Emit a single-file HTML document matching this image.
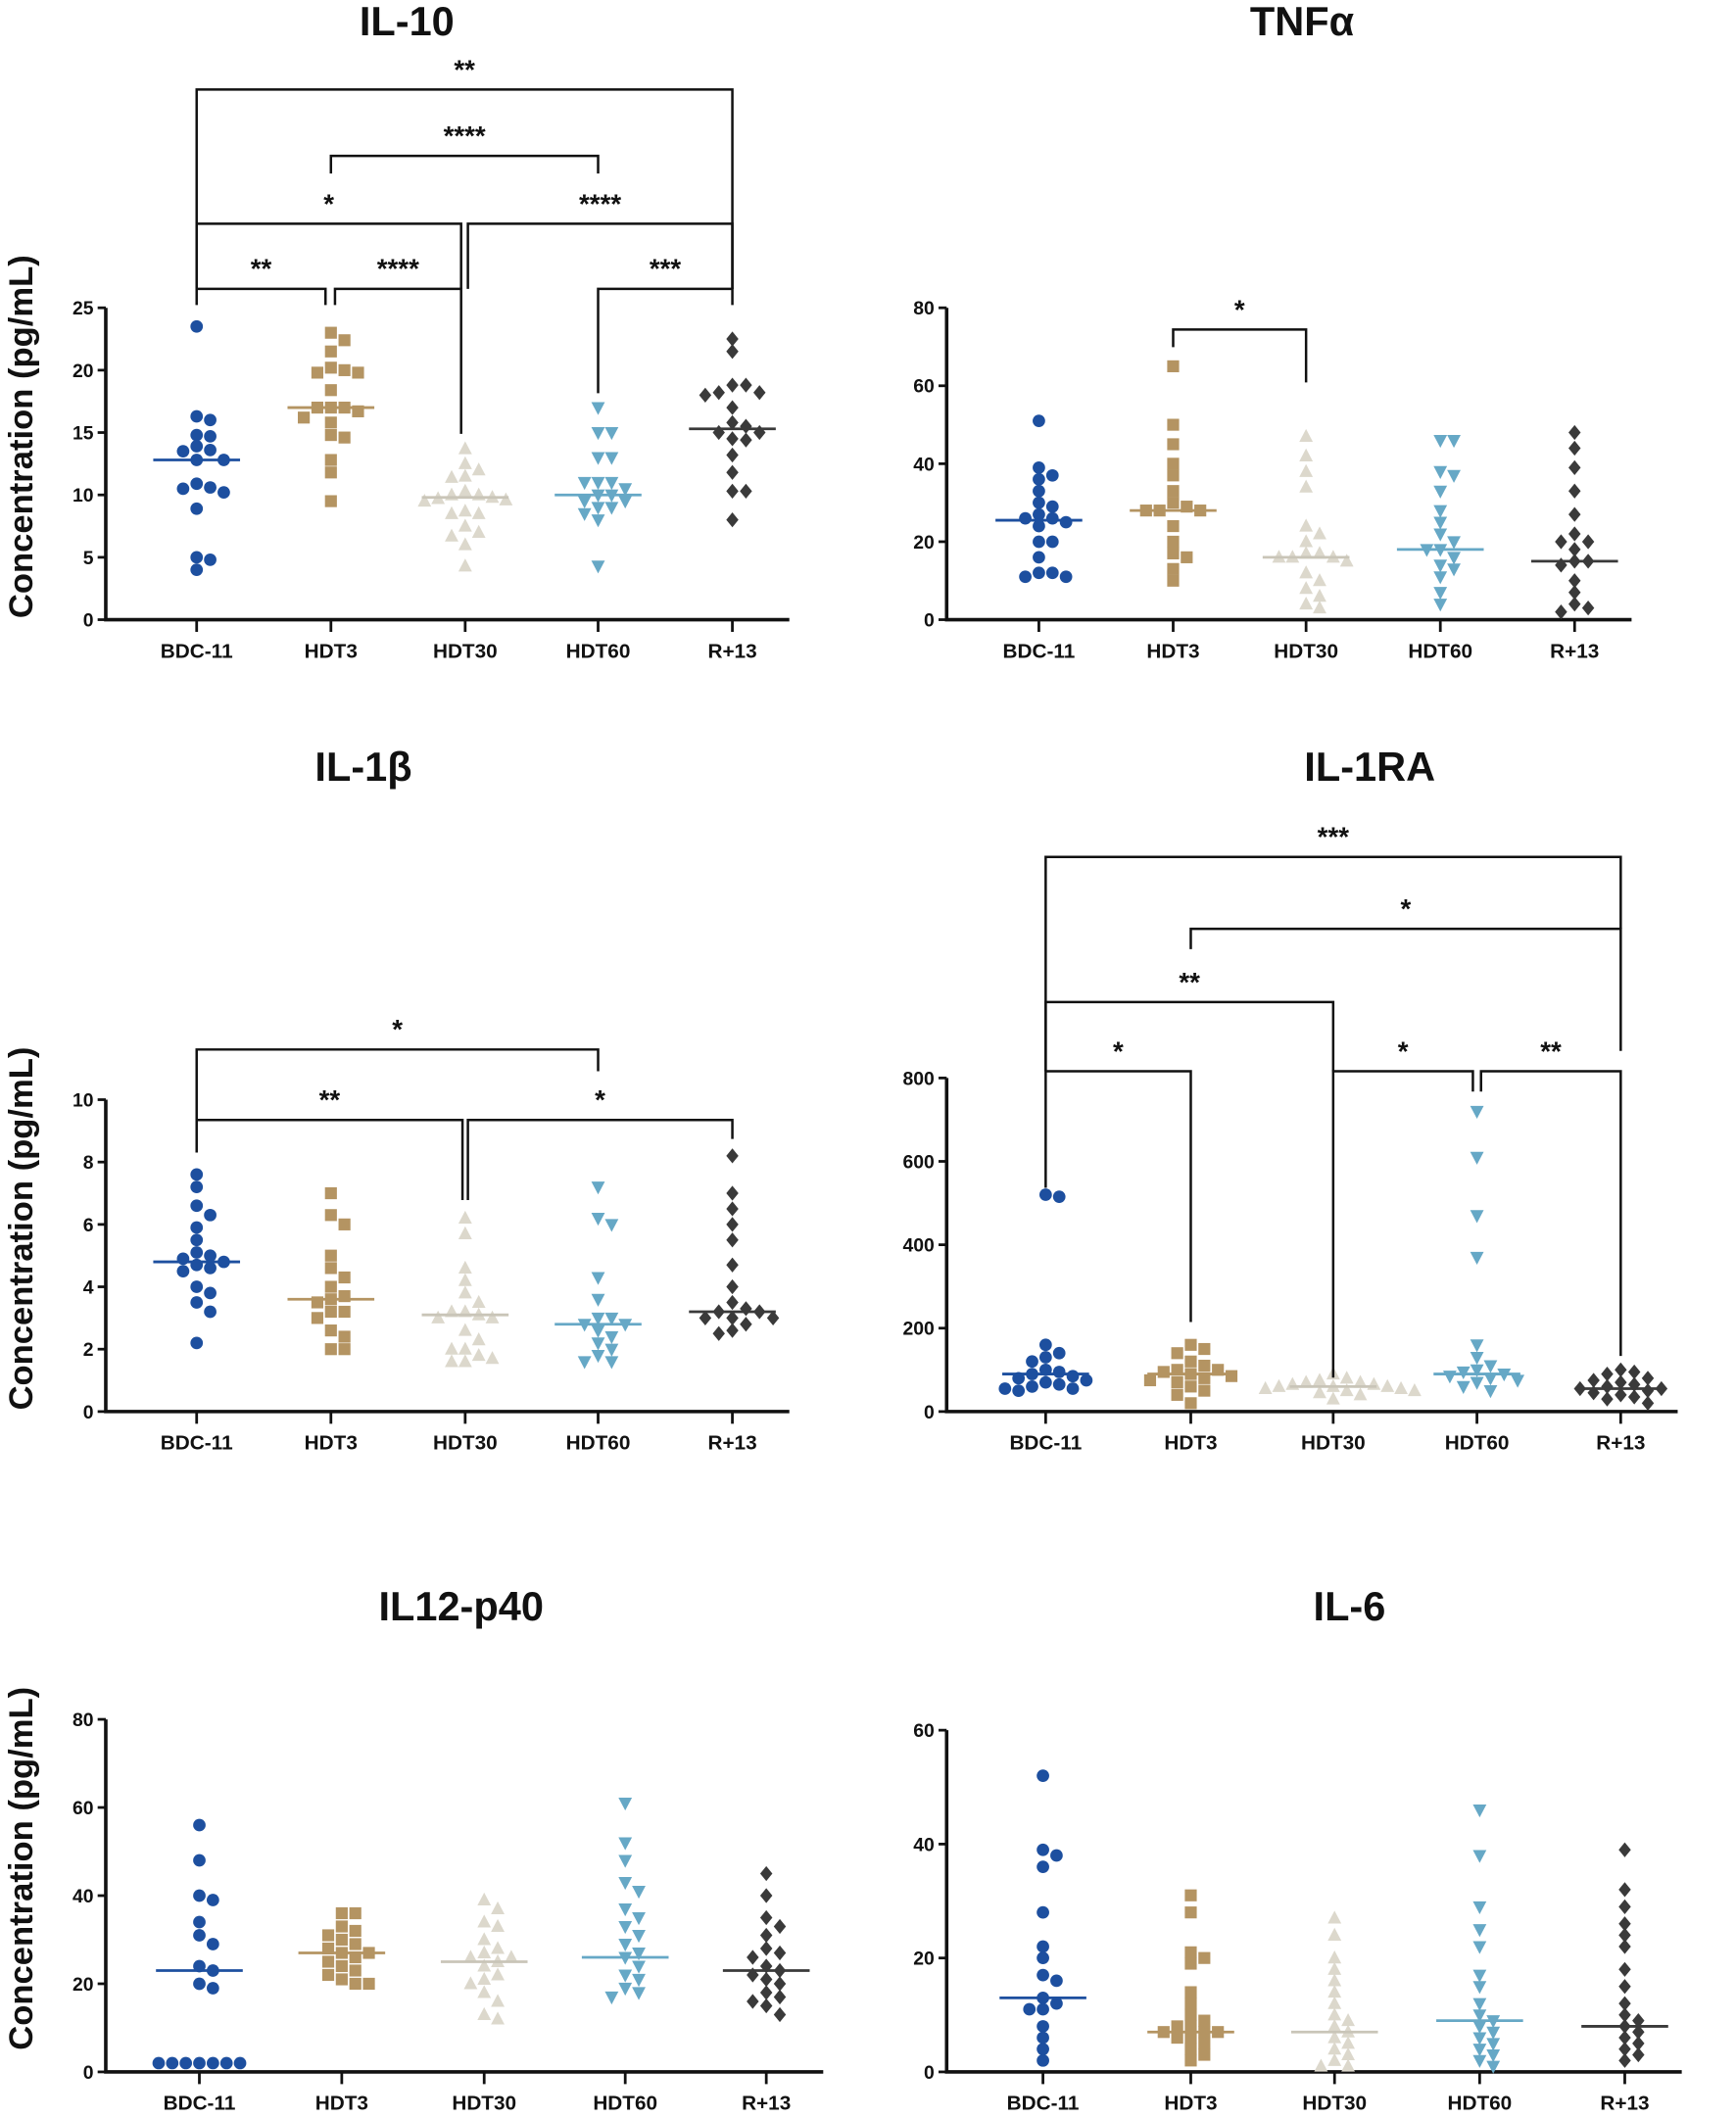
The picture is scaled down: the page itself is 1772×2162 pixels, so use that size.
<!DOCTYPE html>
<html><head><meta charset="utf-8"><style>
html,body{margin:0;padding:0;background:#fff;}
svg{display:block;}
text{font-family:"Liberation Sans Narrow","Liberation Sans",sans-serif;font-weight:bold;fill:#111;}
</style></head><body>
<svg id="fig" width="1772" height="2162" viewBox="0 0 1280 1562" preserveAspectRatio="none" xmlns="http://www.w3.org/2000/svg"></svg>
<script>
const categories = ["BDC-11","HDT3","HDT30","HDT60","R+13"];
// IL-10
const il10Ticks = [0,5,10,15,20,25];
const il10BDC = [23.5,16,16.3,14.8,14.7,13.9,13.6,13.5,12.8,12.8,10.9,10.5,10.6,10.2,8.9,5,4.8,4.0];
const il10HDT3 = [23,22.4,21.5,20,20.2,19.8,19.8,18.4,17,17,17,16.7,16.2,15.8,14.8,14.6,12.8,11.8,9.5];
const il10HDT30 = [13.7,12.5,12,11.5,11.4,10.3,10,10,9.8,9.7,9.6,9.5,8.7,8.5,8.5,7.5,7,6.7,6,4.3];
const il10HDT60 = [17,15,15,13,13,11,11,11,10.5,10,10,9.5,9.5,9,9,8.5,8,4.3];
const il10R13 = [22.5,21.5,18.8,18.8,18.2,18.2,18,17,15.8,15.5,15,15,14.5,14.4,13.2,11.8,10.3,10.3,8];
const il10Medians = [12.8,17,9.8,10,15.3];
// TNFa
const tnfTicks = [0,20,40,60,80];
const tnfBDC = [51,39,37,36,33,30,29,27,26,26,25,24,20,20,16,12,12,11,11];
const tnfHDT3 = [65,50,45,40,37,33,30,29,28,28,28,24,20,17,16,13,10];
const tnfHDT30 = [47,42,38,34,24,22,20,17,17,16,16,16,15,12,10,8,6,4,3];
const tnfHDT60 = [46,46,38,37,33,28,25,22,20,18,18,16,14,13,11,7,4];
const tnfR13 = [48,44,39,33,27,22,20,20,18,15,15,14,10,7,4,3,2];
const tnfMedians = [25.5,28,16,18,15];
// IL-1b
const il1bTicks = [0,2,4,6,8,10];
const il1bBDC = [7.6,7.2,6.6,6.3,5.9,5.5,5.1,5,4.9,4.8,4.7,4.6,4.5,4,3.8,3.5,3.2,2.2];
const il1bHDT3 = [7,6.3,6,5,4.6,4.3,4,3.7,3.6,3.5,3.2,3.2,3,2.6,2.4,2,2];
const il1bHDT30 = [6.2,5.7,4.6,4.2,3.8,3.5,3.2,3.2,3,3.1,3,2.6,2.3,2,2,1.8,1.7,1.6,1.6];
const il1bHDT60 = [7.2,6.2,6,4.3,3.6,3,3,2.8,2.8,2.6,2.4,2.2,2,1.8,1.6,1.6];
const il1bR13 = [8.2,7,6.5,6,5.5,4.7,4,3.5,3.3,3.2,3.2,3,3,3,2.8,2.6,2.5];
const il1bMedians = [4.8,3.6,3.1,2.8,3.2];
// IL-1RA
const il1raTicks = [0,200,400,600,800];
const il1raBDC = [520,515,160,140,130,120,100,95,90,85,80,75,70,65,60,55,55,50];
const il1raHDT3 = [160,150,140,120,110,100,100,95,90,85,80,75,70,60,50,40,20];
const il1raHDT30 = [90,80,75,70,70,65,65,60,60,60,55,55,50,50,45,40,30];
const il1raHDT60 = [720,610,470,370,160,130,110,100,95,90,85,80,75,70,60,50];
const il1raR13 = [100,95,90,80,75,70,65,60,55,55,50,45,40,35,30,20];
const il1raMedians = [90,90,60,90,55];
// IL12-p40
const il12Ticks = [0,20,40,60,80];
const il12BDC = [56,48,40,39,34,31,29,24,23,20,19,2,2,2,2,2,2,2];
const il12HDT3 = [36,36,33,32,31,30,29,28,27,27,26,25,24,23,22,21,20,20];
const il12HDT30 = [39,37,34,33,30,28,27,26,26,25,24,22,21,20,18,16,13,12];
const il12HDT60 = [61,52,48,43,41,37,35,33,31,29,27,26,24,22,21,19,18,17];
const il12R13 = [45,40,35,33,31,28,27,26,24,23,22,21,20,18,17,16,15,13];
const il12Medians = [23,27,25,26,23];
// IL-6
const il6Ticks = [0,20,40,60];
const il6BDC = [52,39,38,36,28,22,20,17,16,13,12,11,11,8,6,4,2];
const il6HDT3 = [31,28,21,20,19,14,12,10,9,8,8,7,7,7,6,6,5,4,3,2];
const il6HDT30 = [27,24,20,18,16,14,12,10,9,8,7,6,5,4,3,2,1,1];
const il6HDT60 = [46,38,29,25,22,17,15,12,10,9,8,7,6,5,4,3,2,1];
const il6R13 = [39,32,29,26,24,22,18,15,12,10,9,8,7,6,5,4,3,2];
const il6Medians = [13,7,7,9,8];

const colors = ["#1d4f9f","#b49462","#dcd8cc","#66a8c6","#3a3a3a"];
const NS="http://www.w3.org/2000/svg";
const svg=document.getElementById('fig');
function el(tag,attrs,parent){const e=document.createElementNS(NS,tag);for(const k in attrs)e.setAttribute(k,attrs[k]);(parent||svg).appendChild(e);return e;}

function marker(g,shape,x,y,c){
  let m;
  if(shape===0) m=el('circle',{cx:x,cy:y,r:4.6,fill:c},g);
  else if(shape===1) m=el('rect',{x:x-4.4,y:y-4.4,width:8.8,height:8.8,fill:c},g);
  else if(shape===2) m=el('polygon',{points:`${x},${y-5.5} ${x+5},${y+4} ${x-5},${y+4}`,fill:c},g);
  else if(shape===3) m=el('polygon',{points:`${x},${y+5.5} ${x+5},${y-4} ${x-5},${y-4}`,fill:c},g);
  else m=el('polygon',{points:`${x},${y-5.5} ${x+4.5},${y} ${x},${y+5.5} ${x-4.5},${y}`,fill:c},g);
  
  
}

function chart(opt){
  const g=el('g',{});
  
  
  const {ax,y0,y1,max,xs,ticks,series,medians}=opt;
  const Y=v=>y0-(v/max)*(y0-y1);
  const t=el('text',{x:opt.tx,y:opt.ty,'text-anchor':'middle','font-size':30,style:'font-family:"Liberation Sans",sans-serif'},g);
  t.textContent=opt.title;
  
  
  if(opt.ylabel){
    const yl=el('text',{x:0,y:0,'text-anchor':'middle','font-size':25,transform:`translate(24,${(y0+y1)/2-20}) rotate(-90)`,style:'font-family:"Liberation Sans",sans-serif'},g);
    yl.textContent='Concentration (pg/mL)';
    
    
  }
  const xend=xs[4]+42;
  const axis=el('path',{d:`M${ax},${y1} V${y0} H${xend}`,stroke:'#111','stroke-width':2.6,fill:'none'},g);
  
  
  ticks.forEach(v=>{
    el('line',{x1:ax-6,x2:ax,y1:Y(v),y2:Y(v),stroke:'#111','stroke-width':2},g);
    const tl=el('text',{x:ax-9,y:Y(v)+5,'text-anchor':'end','font-size':14},g);
    tl.textContent=v;
    
    
  });
  xs.forEach((x,i)=>{
    el('line',{x1:x,x2:x,y1:y0,y2:y0+9,stroke:'#111','stroke-width':2},g);
    const xl=el('text',{x:x,y:y0+28,'text-anchor':'middle','font-size':15},g);
    xl.textContent=categories[i];
    
    
  });
  series.forEach((vals,i)=>{
    const placed=[];
    const sorted=vals.slice().sort((a,b)=>b-a);
    sorted.forEach(v=>{
      const y=Y(v);let off=0;
      for(let k=0;k<40;k++){
        const cand=(k%2?1:-1)*Math.ceil(k/2)*10;
        if(!placed.some(p=>Math.abs(p[0]-cand)<9.5&&Math.abs(p[1]-y)<8)){off=cand;break;}
      }
      placed.push([off,y]);
      marker(g,i,xs[i]+off,y,colors[i]);
    });
    const ml=el('line',{x1:xs[i]-32,x2:xs[i]+32,y1:Y(medians[i]),y2:Y(medians[i]),stroke:i===2?'#c9c5b8':colors[i],'stroke-width':2},g);
    
    
  });
  (opt.brackets||[]).forEach(b=>{
    const [xa,xb,y,da,db,label]=b;
    const p=el('path',{d:`M${xa},${da} V${y} H${xb} V${db}`,stroke:'#111','stroke-width':1.8,fill:'none'},g);
    
    
    const st=el('text',{x:(xa+xb)/2,y:y-8,'text-anchor':'middle','font-size':20,style:'font-family:"Liberation Sans",sans-serif'},g);
    st.textContent=label;
    
    
  });
}

chart({name:'il10-chart',title:'IL-10',tx:300,ty:26,ylabel:true,ax:78,y0:457,y1:227,max:25,xs:[145,244,343,441,540],ticks:il10Ticks,
 series:[il10BDC,il10HDT3,il10HDT30,il10HDT60,il10R13],medians:il10Medians,
 brackets:[[145,540,66,213,213,'**'],[244,441,115,128,128,'****'],[145,340,165,213,213,'*'],[345,540,165,213,213,'****'],
 [145,240,213,225,225,'**'],[247,340,213,225,320,'****'],[441,540,213,290,225,'***']]});
chart({name:'tnfa-chart',title:'TNFα',tx:960,ty:26,ylabel:false,ax:698,y0:457,y1:227,max:80,xs:[766,865,963,1062,1161],ticks:tnfTicks,
 series:[tnfBDC,tnfHDT3,tnfHDT30,tnfHDT60,tnfR13],medians:tnfMedians,brackets:[[865,963,243,256,282,'*']]});
chart({name:'il1b-chart',title:'IL-1β',tx:268,ty:576,ylabel:true,ax:78,y0:1041,y1:811,max:10,xs:[145,244,343,441,540],ticks:il1bTicks,
 series:[il1bBDC,il1bHDT3,il1bHDT30,il1bHDT60,il1bR13],medians:il1bMedians,
 brackets:[[145,441,774,826,790,'*'],[145,341,826,850,885,'**'],[345,540,826,885,840,'*']]});
chart({name:'il1ra-chart',title:'IL-1RA',tx:1010,ty:576,ylabel:false,ax:698,y0:1041,y1:795,max:800,xs:[771,878,983,1089,1195],ticks:il1raTicks,
 series:[il1raBDC,il1raHDT3,il1raHDT30,il1raHDT60,il1raR13],medians:il1raMedians,
 brackets:[[771,1195,632,790,685,'***'],[878,1195,685,700,775,'*'],[771,983,739,790,790,'**'],[771,878,790,876,975,'*'],
 [983,1086,790,1016,805,'*'],[1092,1195,790,805,1000,'**']]});
chart({name:'il12p40-chart',title:'IL12-p40',tx:340,ty:1195,ylabel:true,ax:78,y0:1528,y1:1268,max:80,xs:[147,252,357,461,565],ticks:il12Ticks,
 series:[il12BDC,il12HDT3,il12HDT30,il12HDT60,il12R13],medians:il12Medians});
chart({name:'il6-chart',title:'IL-6',tx:995,ty:1195,ylabel:false,ax:698,y0:1528,y1:1276,max:60,xs:[769,878,984,1091,1198],ticks:il6Ticks,
 series:[il6BDC,il6HDT3,il6HDT30,il6HDT60,il6R13],medians:il6Medians});
</script>
</body></html>
